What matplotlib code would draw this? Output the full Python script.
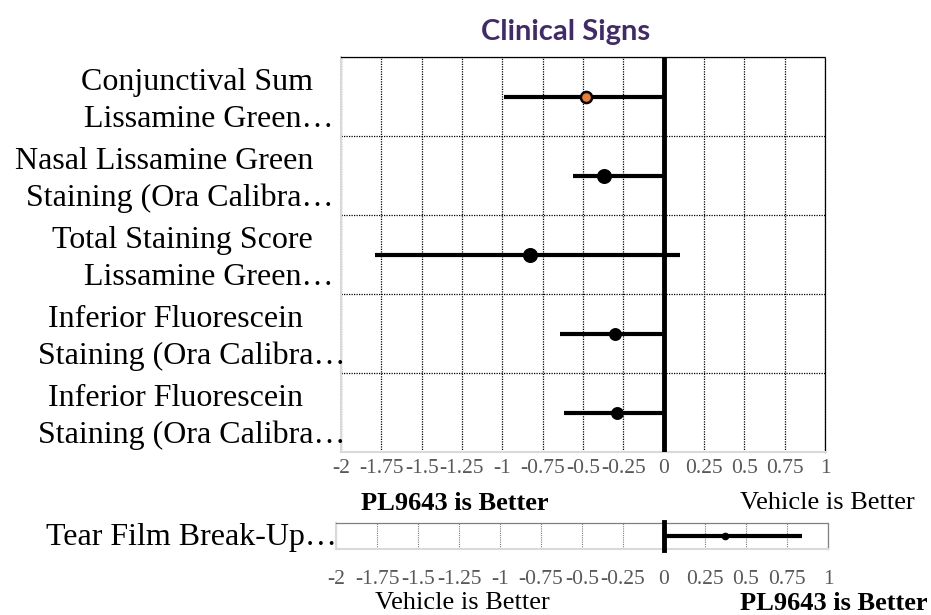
import matplotlib
matplotlib.use("Agg")
import matplotlib.pyplot as plt
import numpy as np
from matplotlib.ticker import FixedLocator, FuncFormatter
from matplotlib.transforms import blended_transform_factory

plt.rcParams["font.family"] = "Liberation Serif"
plt.rcParams["axes.unicode_minus"] = False

# Clinical signs (top panel), listed from top to bottom
label_line1 = ["Conjunctival Sum", "Nasal Lissamine Green", "Total Staining Score",
               "Inferior Fluorescein", "Inferior Fluorescein"]
label_line2 = ["Lissamine Green\u2026", "Staining (Ora Calibra\u2026", "Lissamine Green\u2026",
               "Staining (Ora Calibra\u2026", "Staining (Ora Calibra\u2026"]
estimate = [-0.48, -0.37, -0.83, -0.30, -0.29]
ci_low = [-0.99, -0.56, -1.79, -0.64, -0.62]
ci_high = [0.0, 0.0, 0.10, 0.01, 0.0]

# Tear film (bottom panel)
tear_label = "Tear Film Break-Up\u2026"
tear_est = 0.37
tear_low = 0.0
tear_high = 0.84

xticks = [-2, -1.75, -1.5, -1.25, -1, -0.75, -0.5, -0.25, 0, 0.25, 0.5, 0.75, 1]

fig = plt.figure(figsize=(9.31, 6.15), dpi=100)
ax = fig.add_axes([341 / 931, 1 - 452 / 615, (825 - 341) / 931, (452 - 57) / 615])
ax2 = fig.add_axes([336 / 931, 1 - 549 / 615, (828 - 336) / 931, (549 - 523) / 615])

tick_fmt = FuncFormatter(lambda v, p: f"{v:g}")
grey_txt = "#595959"

# ---- top panel ----
n = len(estimate)
ypos = np.arange(n)[::-1]
ax.set_xlim(-2, 1)
ax.set_ylim(-0.5, n - 0.5)
ax.xaxis.set_major_locator(FixedLocator(xticks))
ax.xaxis.set_major_formatter(tick_fmt)
ax.set_yticks([])
ax.yaxis.set_minor_locator(FixedLocator(np.arange(-0.5, n, 1.0)))
ax.grid(True, axis="x", which="major", color="black", linestyle=(0, (1, 1)), linewidth=0.9)
ax.grid(True, axis="y", which="minor", color="black", linestyle=(0, (1, 1)), linewidth=0.9)
ax.tick_params(axis="x", length=0, pad=5, labelsize=15.5, labelcolor=grey_txt)
ax.tick_params(axis="y", which="both", length=0)
for s in ["left", "bottom"]:
    ax.spines[s].set_color("#d9d9d9")
    ax.spines[s].set_linewidth(1.5)
for s in ["top", "right"]:
    ax.spines[s].set_color("black")
    ax.spines[s].set_linestyle((0, (1, 1)))
    ax.spines[s].set_linewidth(0.9)

ax.axvline(0, color="black", linewidth=3.5, zorder=3)
for i in range(n):
    ax.plot([ci_low[i], ci_high[i]], [ypos[i], ypos[i]], color="black",
            linewidth=3, solid_capstyle="butt", zorder=4)
sizes = [8, 9, 9, 7.5, 7.5]
faces = ["#ed7d31", "black", "black", "black", "black"]
for i in range(n):
    ax.plot(estimate[i], ypos[i], "o", markersize=sizes[i], markerfacecolor=faces[i],
            markeredgecolor="black", markeredgewidth=1.8, zorder=5)

trans = blended_transform_factory(ax.transAxes, ax.transData)
offs1 = [-28, -28, -28, -38, -38]
offs2 = [-8, -8, -8, 4, 4]
for i in range(n):
    ax.annotate(label_line1[i], xy=(0, ypos[i]), xycoords=trans, xytext=(offs1[i], 14),
                textcoords="offset pixels", ha="right", va="center", fontsize=23,
                annotation_clip=False)
    ax.annotate(label_line2[i], xy=(0, ypos[i]), xycoords=trans, xytext=(offs2[i], -23),
                textcoords="offset pixels", ha="right", va="center", fontsize=23,
                annotation_clip=False)

fig.text(455 / 931, 1 - 503 / 615, "PL9643 is Better", ha="center", va="center",
         fontsize=19, fontweight="bold")
fig.text(827 / 931, 1 - 503 / 615, "Vehicle is Better", ha="center", va="center", fontsize=19)

# ---- bottom panel ----
ax2.set_xlim(-2, 1)
ax2.set_ylim(-0.5, 0.5)
ax2.xaxis.set_major_locator(FixedLocator(xticks))
ax2.xaxis.set_major_formatter(tick_fmt)
ax2.set_yticks([])
ax2.grid(True, axis="x", color="#7f7f7f", linestyle=(0, (1, 1)), linewidth=0.8)
ax2.tick_params(axis="x", length=0, pad=15, labelsize=15.5, labelcolor=grey_txt)
for s in ["left", "bottom"]:
    ax2.spines[s].set_color("#d9d9d9")
    ax2.spines[s].set_linewidth(1.5)
for s in ["top", "right"]:
    ax2.spines[s].set_color("#7f7f7f")
    ax2.spines[s].set_linestyle((0, (1, 1)))
    ax2.spines[s].set_linewidth(0.9)
ax2.plot([0, 0], [-0.55, 0.55], color="black", linewidth=3.5, clip_on=False, zorder=3)
ax2.plot([tear_low, tear_high], [0, 0], color="black", linewidth=3, solid_capstyle="butt", zorder=4)
ax2.plot(tear_est, 0, "o", color="black", markersize=4.5, zorder=5)
ax2.annotate(tear_label, xy=(0, 0), xycoords=blended_transform_factory(ax2.transAxes, ax2.transData),
             xytext=(1, -2), textcoords="offset pixels", ha="right", va="center", fontsize=23,
             annotation_clip=False)

fig.text(462 / 931, 1 - 603 / 615, "Vehicle is Better", ha="center", va="center", fontsize=19)
fig.text(834 / 931, 1 - 603 / 615, "PL9643 is Better", ha="center", va="center",
         fontsize=19, fontweight="bold")

fig.text(566 / 931, 1 - 32 / 615, "Clinical Signs", ha="center", va="center", fontsize=21,
         fontweight="bold", family="Lato", color="#412a6b")

fig.savefig("out.png", dpi=100)
